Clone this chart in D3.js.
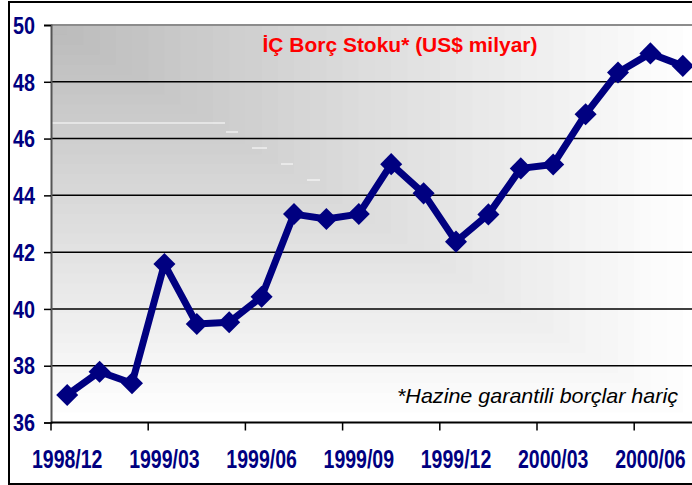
<!DOCTYPE html>
<html>
<head>
<meta charset="utf-8">
<script src="https://cdn.jsdelivr.net/npm/d3@7"></script>
<style>
	body { margin: 0; background: #fff; }
	svg { display: block; }
</style>
</head>
<body>
<div id="chartsArea"></div>
<script>
// monthly stock, US$ billions
var months = ["1998/12","1999/01","1999/02","1999/03","1999/04","1999/05","1999/06","1999/07",
	"1999/08","1999/09","1999/10","1999/11","1999/12","2000/01","2000/02","2000/03",
	"2000/04","2000/05","2000/06","2000/07"];
var stock = [36.97, 37.79, 37.38, 41.58, 39.47, 39.53, 40.43, 43.34, 43.17, 43.34,
	45.10, 44.07, 42.37, 43.33, 44.95, 45.09, 46.86, 48.33, 49.0, 48.56];
var yTicks = [36, 38, 40, 42, 44, 46, 48, 50];
var xLabels = ["1998/12","1999/03","1999/06","1999/09","1999/12","2000/03","2000/06"];
var title = "İÇ Borç Stoku* (US$ milyar)";
var note = "*Hazine garantili borçlar hariç";

var getDimensions=function() {
	var margin = {top: 25, right: -7, bottom: 62.5, left: 51};
	return {
		w: 692,
		h: 485,
		width: 692 - margin.left - margin.right,
		height: 485 - margin.top - margin.bottom,
		margin: margin
	};
};

// squeeze text horizontally, the original uses a narrow face
var condense=function(sel, k) {
	sel.each(function() {
		var l = this.getComputedTextLength();
		d3.select(this).attr("textLength", l*k).attr("lengthAdjust", "spacingAndGlyphs");
	});
};

var makeGraph=function() {
	var dim = getDimensions();
	var svg = d3.select("#chartsArea").append("svg")
		.attr("width", dim.w)
		.attr("height", dim.h);

	// outer frame
	svg.append("rect")
		.attr("x", 9).attr("y", 2)
		.attr("width", 700).attr("height", 482)
		.attr("fill", "#fff")
		.attr("stroke", "#000")
		.attr("stroke-width", 2);

	var g = svg.append("g")
		.attr("transform", "translate(" + dim.margin.left + "," + dim.margin.top + ")");

	var x = d3.scaleBand()
		.domain(months)
		.range([0, dim.width])
		.padding(0);

	var y = d3.scaleLinear()
		.domain([36, 50])
		.range([dim.height, 0]);

	// corner gradient: nested rects from the top-left corner
	var bg = d3.interpolateRgb("#ffffff", "#bababa");
	var steps = d3.range(40, 0, -1);
	g.append("g").selectAll("rect")
		.data(steps)
		.enter().append("rect")
		.attr("x", 0).attr("y", 0)
		.attr("width", function(d) { return dim.width*d/40; })
		.attr("height", function(d) { return dim.height*d/40; })
		.attr("fill", function(d) { return bg(1 - d/40); });

	// stray white dashes seen in the original
	var dashes = [[1,98,174],[175,107,187],[201,123,216],[230,139,242],[256,155,269]];
	g.append("g").selectAll("line")
		.data(dashes)
		.enter().append("line")
		.attr("x1", function(d) { return d[0]; })
		.attr("x2", function(d) { return d[2]; })
		.attr("y1", function(d) { return d[1]; })
		.attr("y2", function(d) { return d[1]; })
		.attr("stroke", "#fff")
		.attr("stroke-width", 1);

	// gridlines
	g.append("g")
		.selectAll("line")
		.data(yTicks.slice(1, -1))
		.enter().append("line")
		.attr("x1", 0).attr("x2", dim.width)
		.attr("y1", function(d) { return y(d); })
		.attr("y2", function(d) { return y(d); })
		.attr("stroke", "#000")
		.attr("stroke-width", 1.5);

	g.append("line")
		.attr("x1", 0).attr("x2", dim.width)
		.attr("y1", y(50)).attr("y2", y(50))
		.attr("stroke", "#8c8c8c")
		.attr("stroke-width", 2);

	// y axis
	var yAxis = g.append("g")
		.call(d3.axisLeft(y).tickValues(yTicks).tickSize(7).tickPadding(9));
	yAxis.select(".domain").attr("stroke", "#555").attr("stroke-width", 2);
	yAxis.selectAll(".tick line").attr("stroke", "#000").attr("stroke-width", 1.5);
	yAxis.selectAll(".tick text")
		.attr("fill", "#000080")
		.attr("font-family", "'Liberation Sans', Arial, sans-serif")
		.attr("font-weight", "bold")
		.attr("font-size", 23)
		.attr("dy", "0.36em")
		.call(condense, 0.86);

	// x axis, ticks between every third category
	var tickPos = months.filter(function(d, i) { return i%3 == 0; })
		.map(function(d) { return x(d); });
	var xAxis = g.append("g")
		.attr("transform", "translate(0," + dim.height + ")");
	xAxis.append("line")
		.attr("x1", 0).attr("x2", dim.width)
		.attr("stroke", "#000").attr("stroke-width", 2);
	xAxis.selectAll(".tk")
		.data(tickPos)
		.enter().append("line")
		.attr("class", "tk")
		.attr("x1", function(d) { return d; })
		.attr("x2", function(d) { return d; })
		.attr("y1", 0).attr("y2", 8)
		.attr("stroke", "#000").attr("stroke-width", 1.5);
	xAxis.selectAll("text")
		.data(xLabels)
		.enter().append("text")
		.attr("x", function(d) { return x(d) + x.bandwidth()/2; })
		.attr("y", 45)
		.attr("text-anchor", "middle")
		.attr("fill", "#000080")
		.attr("font-family", "'Liberation Sans', Arial, sans-serif")
		.attr("font-weight", "bold")
		.attr("font-size", 26)
		.text(function(d) { return d; })
		.call(condense, 0.75);

	// the line
	var line = d3.line()
		.x(function(d, i) { return x(months[i]) + x.bandwidth()/2; })
		.y(function(d) { return y(d); });

	g.append("path")
		.datum(stock)
		.attr("d", line)
		.attr("fill", "none")
		.attr("stroke", "#000080")
		.attr("stroke-width", 7)
		.attr("stroke-linejoin", "round");

	g.append("g")
		.selectAll("path")
		.data(stock)
		.enter().append("path")
		.attr("d", d3.symbol().type(d3.symbolDiamond2).size(310))
		.attr("transform", function(d, i) {
			return "translate(" + (x(months[i]) + x.bandwidth()/2) + "," + y(d) + ")";
		})
		.attr("fill", "#000080");

	// title and note
	svg.append("text")
		.attr("x", 400)
		.attr("y", 52)
		.attr("text-anchor", "middle")
		.attr("fill", "#ff0000")
		.attr("font-family", "'Liberation Sans', Arial, sans-serif")
		.attr("font-weight", "bold")
		.attr("font-size", 21)
		.attr("textLength", 275)
		.attr("lengthAdjust", "spacingAndGlyphs")
		.text(title);

	svg.append("text")
		.attr("x", 678)
		.attr("y", 403)
		.attr("text-anchor", "end")
		.attr("fill", "#000")
		.attr("font-family", "'Liberation Sans', Arial, sans-serif")
		.attr("font-style", "italic")
		.attr("font-size", 21)
		.attr("textLength", 281)
		.attr("lengthAdjust", "spacingAndGlyphs")
		.text(note);
};

makeGraph();
</script>
</body>
</html>
